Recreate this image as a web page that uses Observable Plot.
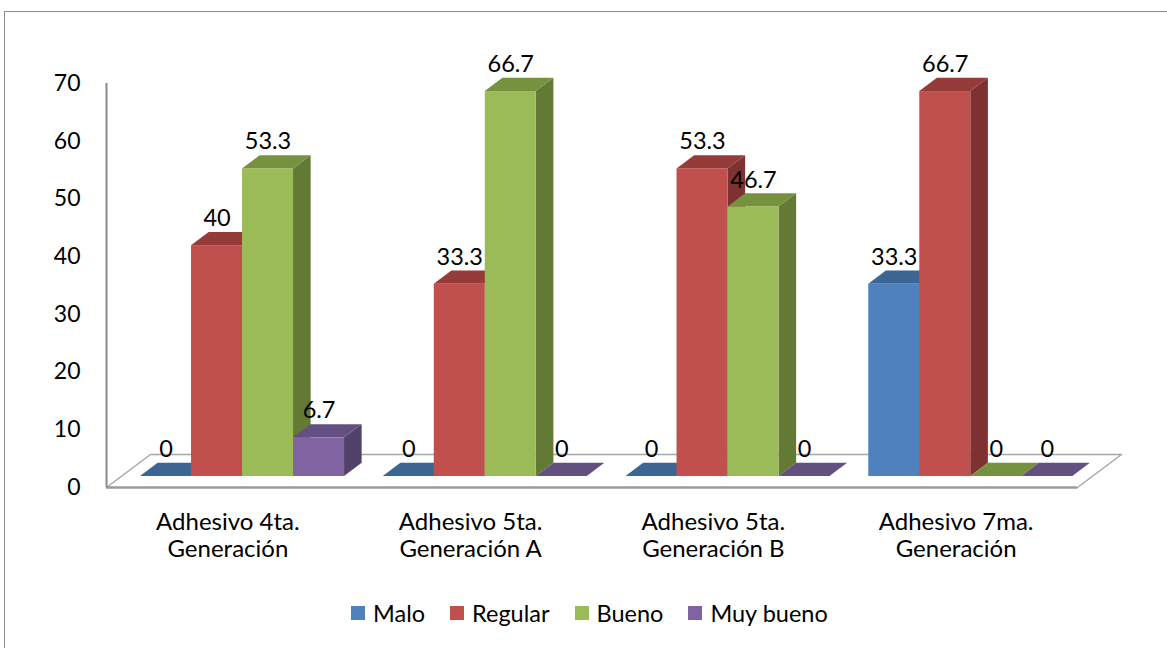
<!DOCTYPE html>
<html>
<head>
<meta charset="utf-8">
<script src="https://cdn.jsdelivr.net/npm/d3@7"></script>
<script src="https://cdn.jsdelivr.net/npm/@observablehq/plot@0.6"></script>
<style>
  html, body { margin: 0; padding: 0; background: #fff; }
  body { width: 1167px; height: 648px; overflow: hidden; position: relative; font-family: Lato, "Open Sans", sans-serif; }
  #frame { position: absolute; left: 4px; top: 11px; width: 1240px; height: 720px; border: 1.5px solid #8c8c8c; box-sizing: border-box; }
  #chart { position: absolute; left: 0; top: 0; }
  #legend { position: absolute; left: 351px; top: 599px; display: flex; align-items: center; font-size: 23.5px; color: #000; white-space: nowrap; }
  #legend .item { display: flex; align-items: center; margin-right: 25px; }
  #legend .sw { width: 14px; height: 14px; margin-right: 8px; }
</style>
</head>
<body>
<div id="frame"></div>
<div id="chart"></div>
<div id="legend"></div>
<script>
// Categories, series and their values
const categories = [
  "Adhesivo 4ta.\nGeneración",
  "Adhesivo 5ta.\nGeneración A",
  "Adhesivo 5ta.\nGeneración B",
  "Adhesivo 7ma.\nGeneración"
];
const seriesNames = ["Malo", "Regular", "Bueno", "Muy bueno"];
const malo     = [0, 0, 0, 33.3];
const regular  = [40, 33.3, 53.3, 66.7];
const bueno    = [53.3, 66.7, 46.7, 0];
const muyBueno = [6.7, 0, 0, 0];
const yTicks = [0, 10, 20, 30, 40, 50, 60, 70];

// Face colours for each series: front, top, side
const frontColors = ["#4f81bd", "#c0504d", "#9bbb59", "#8064a2"];
const topColors   = ["#3d6594", "#953b39", "#77923f", "#645080"];
const sideColors  = ["#2f4f76", "#7d3130", "#637a34", "#524169"];

// Oblique projection of depth: shift per unit of depth, in x-band and value units
const DX = 0.1813;
const DY = 5.72;
const D0 = 0.333;   // depth of the bar front faces
const D1 = 0.733;   // depth of the bar back faces
const GROUP_PAD = 0.0798;
const BAR_W = 0.2101;

const values = [malo, regular, bueno, muyBueno];
const bars = [];
categories.forEach((cat, c) => {
  seriesNames.forEach((name, s) => {
    const x1 = c + GROUP_PAD + s * BAR_W;
    bars.push({c, s, x1, x2: x1 + BAR_W, v: values[s][c]});
  });
});

// Front faces
const fronts = bars.filter(b => b.v > 0).map(b => ({
  x1: b.x1 + DX * D0, x2: b.x2 + DX * D0, y1: DY * D0, y2: b.v + DY * D0, fill: frontColors[b.s]
}));

// Right side faces (parallelograms)
const sides = [];
bars.filter(b => b.v > 0).forEach((b, i) => {
  sides.push({id: i, x: b.x2 + DX * D0, y1: DY * D0, y2: b.v + DY * D0, fill: sideColors[b.s]});
  sides.push({id: i, x: b.x2 + DX * D1, y1: DY * D1, y2: b.v + DY * D1, fill: sideColors[b.s]});
});

// Top faces (parallelograms); zero bars show only this flat face
const tops = [];
bars.forEach((b, i) => {
  const lo = b.v + DY * D0, hi = b.v + DY * D1, f = topColors[b.s];
  tops.push({id: i, x: b.x1 + DX * D0, y1: lo, y2: lo, fill: f});
  tops.push({id: i, x: b.x1 + DX * D1, y1: lo, y2: hi, fill: f});
  tops.push({id: i, x: b.x2 + DX * D0, y1: lo, y2: hi, fill: f});
  tops.push({id: i, x: b.x2 + DX * D1, y1: hi, y2: hi, fill: f});
});

// Value labels above the front of each bar
const labels = bars.map(b => ({
  x: (b.x1 + b.x2) / 2 + DX * D0, y: b.v + DY * D0, text: String(b.v)
}));

// Floor outline (back and side edges)
const n = categories.length;
const floorEdge = [
  {x: 0, y: 0}, {x: DX, y: DY}, {x: n + DX, y: DY}, {x: n, y: 0}
];

const chart = Plot.plot({
  width: 1167,
  height: 585,
  marginLeft: 106,
  marginRight: 90,
  marginTop: 83,
  marginBottom: 98,
  x: {domain: [0, n], range: [106, 1077], axis: null},
  y: {domain: [0, 70], range: [487, 83], axis: null},
  color: {type: "identity"},
  style: {fontFamily: "Lato, 'Open Sans', sans-serif", fontSize: "23px", color: "#000", background: "transparent", overflow: "visible"},
  marks: [
    Plot.line(floorEdge, {x: "x", y: "y", stroke: "#a6a6a6", strokeWidth: 1.5}),
    Plot.ruleY([0], {x1: 0, x2: n, stroke: "#9a9a9a", strokeWidth: 2.5}),
    Plot.ruleX([0], {y1: 0, y2: 70, stroke: "#8a8a8a", strokeWidth: 2}),
    Plot.axisY(yTicks, {tickSize: 0, tickPadding: 26, fontSize: 23, fill: "#000", tickFormat: d => String(d)}),
    Plot.areaY(sides, {x: "x", y1: "y1", y2: "y2", z: "id", fill: "fill"}),
    Plot.areaY(tops, {x: "x", y1: "y1", y2: "y2", z: "id", fill: "fill"}),
    Plot.rect(fronts, {x1: "x1", x2: "x2", y1: "y1", y2: "y2", fill: "fill", inset: 0}),
    Plot.text(labels, {x: "x", y: "y", text: "text", dy: -27, fontSize: 23.5, fill: "#000"}),
    Plot.text(categories, {x: (d, i) => i + 0.5, y: 0, text: d => d, dy: 47, lineAnchor: "middle", lineHeight: 1.13, fontSize: 24, fill: "#000"})
  ]
});
document.getElementById("chart").appendChild(chart);

// Legend below the plot
const legend = document.getElementById("legend");
seriesNames.forEach((name, s) => {
  const item = document.createElement("div");
  item.className = "item";
  const sw = document.createElement("span");
  sw.className = "sw";
  sw.style.background = frontColors[s];
  const label = document.createElement("span");
  label.textContent = name;
  item.appendChild(sw);
  item.appendChild(label);
  legend.appendChild(item);
});
</script>
</body>
</html>
